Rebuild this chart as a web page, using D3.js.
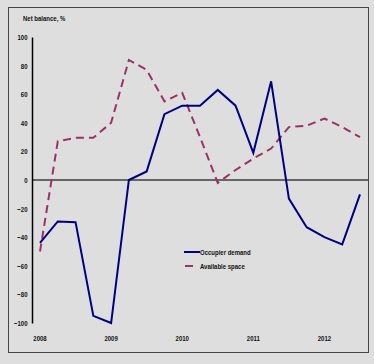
<!DOCTYPE html>
<html>
<head>
<meta charset="utf-8">
<script src="https://cdn.jsdelivr.net/npm/d3@7"></script>
<style>
  body { margin: 0; background: #dedede; }
  text { font-family: "Liberation Sans", Arial, sans-serif; font-weight: bold; fill: #111; font-size: 8px; }
</style>
</head>
<body>
<div id="chart"></div>
<script>
// quarterly data, 2008Q1 .. 2012Q3
var quarters = ["2008Q1","2008Q2","2008Q3","2008Q4","2009Q1","2009Q2","2009Q3","2009Q4",
                "2010Q1","2010Q2","2010Q3","2010Q4","2011Q1","2011Q2","2011Q3","2011Q4",
                "2012Q1","2012Q2","2012Q3"];
var occupierDemand = [-44, -29, -29.5, -95, -100, 0, 6, 46, 52, 52, 63, 52, 19, 69, -13, -33, -40, -45, -10];
var availableSpace = [-50, 27, 29.5, 29.5, 40, 84, 77, 55, 61, 30, -2, 7, 15, 22, 37, 38, 43, 37, 30];
var yearLabels = ["2008", "2009", "2010", "2011", "2012"];
var yTicks = [100, 80, 60, 40, 20, 0, -20, -40, -60, -80, -100];

var width = 374, height = 364,
	narrow = 0.75; // squeeze glyphs to look like Arial Narrow

var svg = d3.select("#chart").append("svg")
	.attr("width", width)
	.attr("height", height);

// condensed text: no narrow face installed, so scale horizontally
function narrowText(parent, tx, ty, str, anchor) {
	return parent.append("text")
		.attr("transform", "translate(" + tx + "," + ty + ") scale(" + narrow + ",1)")
		.attr("text-anchor", anchor || "start")
		.text(str);
}

// outer frame
svg.append("rect")
	.attr("x", 8.5).attr("y", 7.5)
	.attr("width", 360).attr("height", 345)
	.attr("fill", "#dedede")
	.attr("stroke", "#444")
	.attr("stroke-width", 1);

var x = d3.scaleLinear().domain([0, quarters.length - 1]).range([40, 360]);
var y = d3.scaleLinear().domain([-100, 100]).range([323, 37]);

// zero line
svg.append("line")
	.attr("x1", 32).attr("x2", 368)
	.attr("y1", y(0)).attr("y2", y(0))
	.attr("stroke", "#666")
	.attr("stroke-width", 2);

// y axis
var yAxis = d3.axisLeft(y).tickValues(yTicks).tickSize(0).tickFormat("");
var gy = svg.append("g").attr("transform", "translate(32,0)").call(yAxis);
gy.select(".domain").attr("stroke", "#000").attr("stroke-width", 1.5);

var yLab = svg.append("g");
yTicks.forEach(function(t) {
	narrowText(yLab, 27.5, y(t) + 3, d3.format("d")(t), "end");
});

// year labels
var xLab = svg.append("g");
yearLabels.forEach(function(d, i) {
	narrowText(xLab, x(i * 4), 341, d, "middle");
});

// title
narrowText(svg, 23, 21, "Net balance, %");

var line = d3.line()
	.x(function(d, i) { return x(i); })
	.y(function(d) { return y(d); });

svg.append("path")
	.datum(availableSpace)
	.attr("d", line)
	.attr("fill", "none")
	.attr("stroke", "#993366")
	.attr("stroke-width", 2)
	.attr("stroke-dasharray", "8,5");

svg.append("path")
	.datum(occupierDemand)
	.attr("d", line)
	.attr("fill", "none")
	.attr("stroke", "#000080")
	.attr("stroke-width", 2);

// legend
var legend = svg.append("g");
legend.append("line")
	.attr("x1", 184).attr("x2", 200)
	.attr("y1", 252).attr("y2", 252)
	.attr("stroke", "#000080").attr("stroke-width", 2);
legend.append("line")
	.attr("x1", 185).attr("x2", 193)
	.attr("y1", 266).attr("y2", 266)
	.attr("stroke", "#993366").attr("stroke-width", 2);
narrowText(legend, 200, 255, "Occupier demand");
narrowText(legend, 200, 269, "Available space");
</script>
</body>
</html>
